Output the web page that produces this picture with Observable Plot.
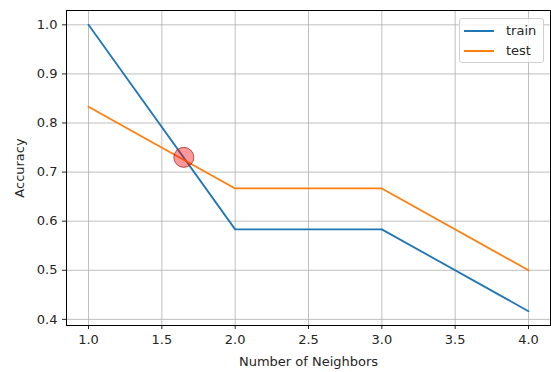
<!DOCTYPE html>
<html>
<head>
<meta charset="utf-8">
<script src="https://cdn.jsdelivr.net/npm/d3@7"></script>
<script src="https://cdn.jsdelivr.net/npm/@observablehq/plot@0.6"></script>
<style>
  html, body { margin: 0; padding: 0; background: #fff; }
  #wrap { position: relative; width: 551px; height: 372px; font-family: "DejaVu Sans", sans-serif; }
  #legend { position: absolute; left: 459px; top: 18px; width: 85px; height: 45px; border: 1px solid #d0d0d0; border-radius: 3px; background: rgba(255,255,255,0.8); box-sizing: border-box; font-size: 13px; color: #262626; }
  .row { position: absolute; left: 4px; display: flex; align-items: center; }
  .sw { width: 30px; height: 0; border-top: 2px solid; margin-right: 12px; }
</style>
</head>
<body>
<div id="wrap"></div>
<script>
const neighbors = [1, 2, 3, 4];
const trainAcc = [1.0, 0.5833, 0.5833, 0.4167];
const testAcc = [0.8333, 0.6667, 0.6667, 0.5];
const seriesNames = ["train", "test"];
const seriesColors = ["#1f77b4", "#ff7f0e"];
const xTicks = [1.0, 1.5, 2.0, 2.5, 3.0, 3.5, 4.0];
const yTicks = [0.4, 0.5, 0.6, 0.7, 0.8, 0.9, 1.0];
const marker = [{x: 1.65, y: 0.73}];

const trainData = neighbors.map((n, i) => ({x: n, y: trainAcc[i]}));
const testData = neighbors.map((n, i) => ({x: n, y: testAcc[i]}));

const chart = Plot.plot({
  width: 551,
  height: 372,
  marginLeft: 66,
  marginRight: 1,
  marginTop: 10,
  marginBottom: 47,
  style: {fontFamily: "DejaVu Sans, sans-serif", fontSize: "13px", color: "#262626", background: "#fff"},
  x: {domain: [0.85, 4.15], ticks: xTicks, tickFormat: d3.format(".1f"), label: "Number of Neighbors", labelArrow: "none", labelAnchor: "center", labelOffset: 40, tickSize: 4, tickPadding: 5},
  y: {domain: [0.3875, 1.0292], ticks: yTicks, tickFormat: d3.format(".1f"), label: "Accuracy", labelArrow: "none", labelAnchor: "center", labelOffset: 52, tickSize: 4, tickPadding: 5},
  marks: [
    Plot.gridX(xTicks, {stroke: "#b0b0b0", strokeOpacity: 1, strokeWidth: 0.8}),
    Plot.gridY(yTicks, {stroke: "#b0b0b0", strokeOpacity: 1, strokeWidth: 0.8}),
    Plot.line(trainData, {x: "x", y: "y", stroke: seriesColors[0], strokeWidth: 1.8}),
    Plot.line(testData, {x: "x", y: "y", stroke: seriesColors[1], strokeWidth: 1.8}),
    Plot.dot(marker, {x: "x", y: "y", r: 10, fill: "red", fillOpacity: 0.4, stroke: "#8b1a1a", strokeOpacity: 0.7, strokeWidth: 1}),
    Plot.frame({stroke: "#000", strokeWidth: 1})
  ]
});
const wrap = document.getElementById("wrap");
wrap.appendChild(chart);

const legend = document.createElement("div");
legend.id = "legend";
seriesNames.forEach((name, i) => {
  const row = document.createElement("div");
  row.className = "row";
  row.style.top = (4 + i * 20) + "px";
  const sw = document.createElement("div");
  sw.className = "sw";
  sw.style.borderColor = seriesColors[i];
  const t = document.createElement("span");
  t.textContent = name;
  row.appendChild(sw);
  row.appendChild(t);
  legend.appendChild(row);
});
wrap.appendChild(legend);
</script>
</body>
</html>
